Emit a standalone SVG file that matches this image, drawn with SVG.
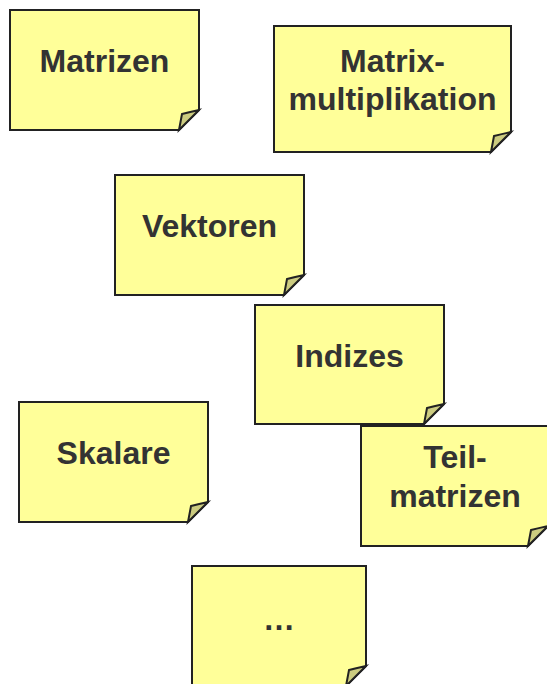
<svg xmlns="http://www.w3.org/2000/svg" width="547" height="684" viewBox="0 0 547 684">
<defs>
<style>
.note{fill:#ffff99;stroke:#222;stroke-width:2;stroke-linejoin:miter}
.curl{fill:#cccc80;stroke:#222;stroke-width:2;stroke-linejoin:miter}
.t{font-family:"Liberation Sans",Arial,sans-serif;font-weight:bold;font-size:32px;fill:#333;text-anchor:middle}
</style>
</defs>
<rect width="547" height="684" fill="#fff"/>
<g id="matrizen">
<path class="note" d="M10,10 H199 V110 L179,130 H10 Z"/>
<path class="curl" d="M179,130 L182,114 Q190,112 199,110 Z"/>
<text class="t" x="104.5" y="72">Matrizen</text>
</g>
<g id="matrixmultiplikation">
<path class="note" d="M274,26 H511 V132 L491,152 H274 Z"/>
<path class="curl" d="M491,152 L494,136 Q502,134 511,132 Z"/>
<text class="t" x="392.5" y="72">Matrix-</text>
<text class="t" x="392.5" y="110">multiplikation</text>
</g>
<g id="vektoren">
<path class="note" d="M115,175 H304 V275 L284,295 H115 Z"/>
<path class="curl" d="M284,295 L287,279 Q295,277 304,275 Z"/>
<text class="t" x="209.5" y="237">Vektoren</text>
</g>
<g id="indizes">
<path class="note" d="M255,305 H444 V404 L424,424 H255 Z"/>
<path class="curl" d="M424,424 L427,408 Q435,406 444,404 Z"/>
<text class="t" x="349.5" y="367">Indizes</text>
</g>
<g id="skalare">
<path class="note" d="M19,402 H208 V502 L188,522 H19 Z"/>
<path class="curl" d="M188,522 L191,506 Q199,504 208,502 Z"/>
<text class="t" x="113.5" y="464">Skalare</text>
</g>
<g id="teilmatrizen">
<path class="note" d="M361,426 H548 V526 L528,546 H361 Z"/>
<path class="curl" d="M528,546 L531,530 Q539,528 548,526 Z"/>
<text class="t" x="455" y="468">Teil-</text>
<text class="t" x="455" y="507">matrizen</text>
</g>
<g id="more">
<path class="note" d="M192,566 H366 V666 L346,686 H192 Z"/>
<path class="curl" d="M346,686 L349,670 Q357,668 366,666 Z"/>
<text class="t" x="279" y="630">…</text>
</g>
<g id="connectors"/>
</svg>
